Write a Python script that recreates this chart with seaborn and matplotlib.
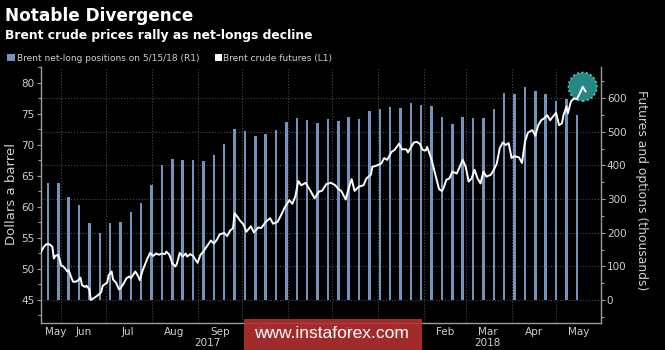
import numpy as np
import pandas as pd
import matplotlib
matplotlib.use("Agg")
import matplotlib.pyplot as plt
import matplotlib.dates as mdates
from matplotlib.patches import Rectangle
import seaborn as sns

# ---------------- data ----------------
price_dates = [
    "2017-05-18", "2017-05-20", "2017-05-22", "2017-05-24", "2017-05-26", "2017-05-27", "2017-05-28",
    "2017-05-30", "2017-05-31", "2017-06-01", "2017-06-02", "2017-06-04", "2017-06-05", "2017-06-06",
    "2017-06-08", "2017-06-09", "2017-06-11", "2017-06-13", "2017-06-14", "2017-06-15", "2017-06-17",
    "2017-06-18", "2017-06-20", "2017-06-21", "2017-06-23", "2017-06-26", "2017-06-28", "2017-06-29",
    "2017-07-02", "2017-07-03", "2017-07-05", "2017-07-06", "2017-07-08", "2017-07-10", "2017-07-11",
    "2017-07-13", "2017-07-15", "2017-07-17", "2017-07-18", "2017-07-21", "2017-07-23", "2017-07-24",
    "2017-07-26", "2017-07-29", "2017-07-30", "2017-07-31", "2017-08-02", "2017-08-04", "2017-08-06",
    "2017-08-08", "2017-08-10", "2017-08-11", "2017-08-13", "2017-08-15", "2017-08-17", "2017-08-18",
    "2017-08-20", "2017-08-22", "2017-08-24", "2017-08-25", "2017-08-27", "2017-08-29", "2017-08-30",
    "2017-09-01", "2017-09-03", "2017-09-05", "2017-09-06", "2017-09-08", "2017-09-10", "2017-09-12",
    "2017-09-14", "2017-09-16", "2017-09-19", "2017-09-21", "2017-09-23", "2017-09-25", "2017-09-26",
    "2017-09-28", "2017-09-30", "2017-10-02", "2017-10-04", "2017-10-07", "2017-10-09", "2017-10-12",
    "2017-10-14", "2017-10-17", "2017-10-20", "2017-10-22", "2017-10-25", "2017-10-27", "2017-10-30",
    "2017-11-02", "2017-11-04", "2017-11-06", "2017-11-08", "2017-11-10", "2017-11-13", "2017-11-16",
    "2017-11-19", "2017-11-22", "2017-11-24", "2017-11-27", "2017-11-30", "2017-12-03", "2017-12-05",
    "2017-12-07", "2017-12-10", "2017-12-12", "2017-12-14", "2017-12-16", "2017-12-19", "2017-12-22",
    "2017-12-24", "2017-12-27", "2017-12-28", "2017-12-30", "2018-01-01", "2018-01-03", "2018-01-05",
    "2018-01-07", "2018-01-10", "2018-01-12", "2018-01-15", "2018-01-17", "2018-01-20", "2018-01-21",
    "2018-01-25", "2018-01-27", "2018-01-29", "2018-01-31", "2018-02-02", "2018-02-03", "2018-02-06",
    "2018-02-08", "2018-02-11", "2018-02-12", "2018-02-13", "2018-02-14", "2018-02-16", "2018-02-18",
    "2018-02-20", "2018-02-23", "2018-02-25", "2018-02-27", "2018-03-01", "2018-03-03", "2018-03-05",
    "2018-03-07", "2018-03-09", "2018-03-11", "2018-03-13", "2018-03-15", "2018-03-18", "2018-03-20",
    "2018-03-22", "2018-03-24", "2018-03-26", "2018-03-28", "2018-03-30", "2018-04-01", "2018-04-03",
    "2018-04-06", "2018-04-08", "2018-04-10", "2018-04-12", "2018-04-15", "2018-04-17", "2018-04-19",
    "2018-04-21", "2018-04-23", "2018-04-25", "2018-04-27", "2018-04-29", "2018-05-01", "2018-05-03",
    "2018-05-05", "2018-05-06", "2018-05-08", "2018-05-09", "2018-05-11", "2018-05-13", "2018-05-15",
    "2018-05-17", "2018-05-19", "2018-05-21",
]
brent_price = [
    52.6, 53.5, 54.0, 54.0, 53.6, 51.7, 52.1,
    52.3, 51.5, 50.5, 50.5, 49.95, 49.6, 49.8,
    48.5, 47.95, 47.95, 48.3, 48.6, 47.4, 47.1,
    47.3, 46.7, 45.0, 45.3, 45.8, 46.3, 47.3,
    47.8, 49.0, 49.6, 48.3, 47.8, 46.7, 46.9,
    47.6, 48.5, 48.8, 48.5, 49.6, 48.8, 48.2,
    49.8, 51.6, 52.1, 52.6, 52.1, 52.5, 52.3,
    52.5, 52.4, 52.8, 52.3, 50.9, 50.4, 50.8,
    52.6, 52.0, 52.5, 52.0, 52.4, 52.1, 51.7,
    51.0, 52.3, 52.8, 53.2, 53.9, 54.6, 54.1,
    54.7, 55.6, 55.8, 55.3, 56.2, 56.6, 59.0,
    58.4, 57.7, 57.2, 56.0, 56.9, 55.9, 56.7,
    56.6, 57.6, 58.2, 57.3, 57.6, 58.5, 60.0,
    61.1, 60.5, 61.7, 64.2, 63.5, 63.9, 62.7,
    61.4, 62.5, 62.6, 63.7, 63.9, 63.5, 62.9,
    62.6, 61.2, 63.0, 64.5, 62.6, 63.3, 63.5,
    64.6, 65.2, 66.5, 66.6, 66.8, 67.0, 67.9,
    67.6, 68.9, 69.2, 70.2, 69.3, 69.3, 68.8,
    70.4, 70.5, 70.2, 69.2, 69.1, 69.7, 67.6,
    65.7, 62.9, 62.7, 62.6, 63.0, 64.4, 64.6,
    65.7, 65.4, 66.5, 67.6, 66.5, 64.1, 64.6,
    66.0, 64.6, 63.8, 65.7, 64.9, 65.2, 66.0,
    67.0, 69.5, 70.4, 70.0, 70.3, 67.9, 68.2,
    68.0, 67.1, 70.5, 72.0, 72.4, 71.5, 73.2,
    74.0, 74.3, 74.8, 74.0, 74.6, 75.2, 73.2,
    73.5, 74.8, 76.2, 75.1, 77.0, 77.5, 77.4,
    78.3, 79.4, 78.6,
]

bar_dates = pd.date_range("2017-05-23", "2018-05-15", freq="7D")
net_longs = [
    347, 348, 307, 282, 228, 199, 229, 231, 261, 289,
    341, 400, 418, 417, 415, 412, 430, 464, 507, 502,
    487, 493, 505, 530, 542, 536, 525, 537, 533, 543,
    538, 561, 566, 573, 569, 585, 579, 575, 543, 523,
    545, 540, 540, 568, 615, 611, 632, 620, 612, 590,
    596, 550,
]

month_starts = ["2017-06-01", "2017-07-01", "2017-08-01", "2017-09-01", "2017-10-01",
                "2017-11-01", "2017-12-01", "2018-01-01", "2018-02-01", "2018-03-01",
                "2018-04-01", "2018-05-01"]
month_label_pos = ["2017-05-28", "2017-06-16", "2017-07-16", "2017-08-16", "2017-09-16",
                   "2017-10-16", "2017-11-16", "2017-12-16", "2018-01-16", "2018-02-15",
                   "2018-03-16", "2018-04-16", "2018-05-16"]
month_labels = ["May", "Jun", "Jul", "Aug", "Sep", "Oct", "Nov", "Dec", "Jan", "Feb",
                "Mar", "Apr", "May"]
year_label_pos = ["2017-09-08", "2018-03-16"]
year_labels = ["2017", "2018"]

left_ticks = [45, 50, 55, 60, 65, 70, 75, 80]
right_ticks = [0, 100, 200, 300, 400, 500, 600]

# ---------------- style ----------------
sns.set_theme(style="dark")
plt.rcParams["font.family"] = ["DejaVu Sans"]
BG = "black"
BAR = "#7393bd"
TXT = "#cfcfcf"
AX = "#9c9c9c"
GRID = "#4a4a4a"

fig = plt.figure(figsize=(6.65, 3.5), dpi=100, facecolor=BG)
axb = fig.add_axes([40.5 / 665, 1 - 322.5 / 350, 560 / 665, 256 / 350])
axb.set_facecolor(BG)
axl = axb.twinx()

xb = mdates.date2num(pd.to_datetime(bar_dates))
xl = mdates.date2num(pd.to_datetime(price_dates))
price = np.array(brent_price)

sns.barplot(x=xb, y=net_longs, native_scale=True, width=0.24, color=BAR,
            saturation=1, linewidth=0, ax=axb, zorder=2)
sns.lineplot(x=xl, y=price, color="white", linewidth=1.4, estimator=None,
             ax=axl, zorder=3)
ipk = int(np.argmax(price))
axl.scatter([xl[ipk]], [price[ipk]], s=420, facecolor="#268784",
            edgecolor="#6fd3cc", linewidths=1.2, linestyle=":", zorder=2)

# limits
axb.set_xlim(mdates.date2num(pd.Timestamp("2017-05-18")),
             mdates.date2num(pd.Timestamp("2018-05-31")))
axb.set_ylim(-66.8, 693.6)
axl.set_ylim(41.37, 82.66)

# y axes
axb.yaxis.tick_right()
axb.set_yticks(right_ticks)
axb.set_yticks(np.arange(-50, 651, 50), minor=True)
axl.yaxis.tick_left()
axl.set_yticks(left_ticks)
axl.set_yticks(np.arange(42.5, 83, 2.5), minor=True)

# x axis
axb.set_xticks(mdates.date2num(pd.to_datetime(month_starts)))
axb.set_xticklabels([""] * len(month_starts))
axb.set_xticks(mdates.date2num(pd.to_datetime(month_label_pos)), minor=True)
axb.set_xticklabels(month_labels, minor=True)

for a in (axb, axl):
    a.tick_params(axis="both", which="major", colors=AX, labelcolor=TXT,
                  labelsize=7.5, length=3, width=0.8, pad=1.5)
    a.tick_params(axis="y", which="minor", colors=AX, length=2, width=0.8)
    a.set_xlabel("")
    a.set_ylabel("")
axb.tick_params(axis="x", which="minor", length=0, pad=3, labelsize=7.5,
                labelcolor=TXT)
axb.tick_params(axis="x", which="major", length=2, pad=0)

axb.grid(False)
axl.grid(False)
axb.grid(axis="y", which="major", color=GRID, linestyle=":", linewidth=0.8)
axb.grid(axis="x", which="major", color=GRID, linestyle=":", linewidth=0.8)
axb.set_axisbelow(True)

for s in ("left", "right", "bottom"):
    axb.spines[s].set_visible(True)
    axb.spines[s].set_color(AX)
    axb.spines[s].set_linewidth(1)
axb.spines["top"].set_visible(False)
for s in axl.spines.values():
    s.set_visible(False)

tr = axb.get_xaxis_transform()
for pos, lab in zip(year_label_pos, year_labels):
    axb.text(mdates.date2num(pd.Timestamp(pos)), -21 / 256, lab, transform=tr,
             ha="center", va="center", fontsize=7.5, color=TXT)

# axis titles
fig.text(11.7 / 665, 1 - 194 / 350, "Dollars a barrel", rotation=90,
         ha="center", va="center", fontsize=9.5, color=TXT)
fig.text(641.7 / 665, 1 - 190 / 350, "Futures and options (thousands)",
         rotation=270, ha="center", va="center", fontsize=8.9, color=TXT)

# titles
fig.text(5 / 665, 1 - 20.7 / 350, "Notable Divergence", fontsize=12.2,
         fontweight="bold", color="white", va="baseline", ha="left")
fig.text(5 / 665, 1 - 38.5 / 350, "Brent crude prices rally as net-longs decline",
         fontsize=8.9, fontweight="bold", color="white", va="baseline", ha="left")

# legend
fig.add_artist(Rectangle((7.3 / 665, 1 - 61 / 350), 7.5 / 665, 7 / 350,
                         transform=fig.transFigure, facecolor=BAR, edgecolor="none"))
fig.text(17.3 / 665, 1 - 61 / 350, "Brent net-long positions on 5/15/18 (R1)",
         fontsize=6.5, color=TXT, va="baseline", ha="left")
fig.add_artist(Rectangle((215 / 665, 1 - 61 / 350), 7 / 665, 7 / 350,
                         transform=fig.transFigure, facecolor="white", edgecolor="none"))
fig.text(222.7 / 665, 1 - 61 / 350, "Brent crude futures (L1)",
         fontsize=6.5, color=TXT, va="baseline", ha="left")

# watermark overlay (covers the Oct-Jan month labels as in the reference)
fig.add_artist(Rectangle((244.3 / 665, 0), (421.7 - 244.3) / 665, (350 - 319.3) / 350,
                         transform=fig.transFigure, facecolor="#b3302f",
                         edgecolor="none", alpha=0.9, zorder=10))
fig.text(331 / 665, 1 - 334 / 350, "www.instaforex.com", fontsize=12.5,
         family=["Liberation Sans", "DejaVu Sans"], color="white",
         ha="center", va="center", zorder=11)

fig.savefig("out.png", dpi=100, facecolor=BG)
